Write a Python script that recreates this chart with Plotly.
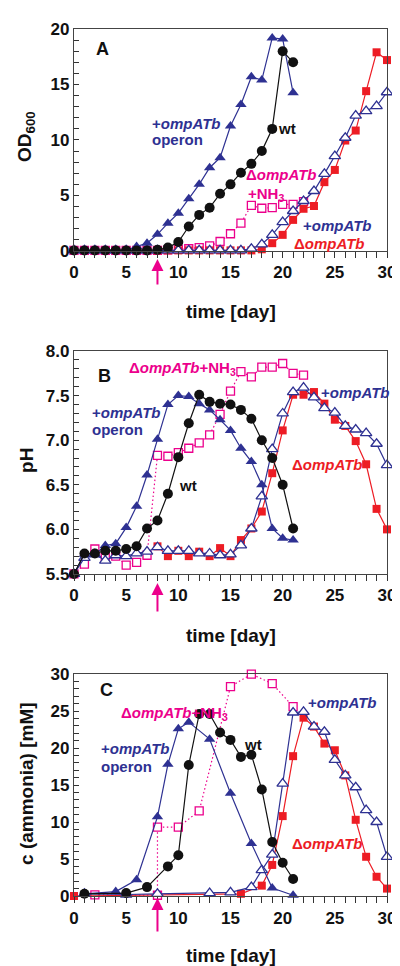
import plotly.graph_objects as go

# ---------------- data ----------------
# Panel A: OD600
days_wt_A = list(range(0, 22))
wt_A = [0.05, 0.05, 0.05, 0.05, 0.05, 0.05, 0.05, 0.05, 0.1, 0.3, 0.8, 2.2, 3.25, 3.9, 5.15, 6.0,
        7.05, 7.85, 9.0, 11.0, 18.0, 17.0]
days_opr_A = list(range(0, 22))
opr_A = [0.05, 0.05, 0.05, 0.05, 0.05, 0.05, 0.4, 0.7, 1.5, 2.5, 3.4, 4.7, 6.0, 7.5, 8.4, 11.25,
         13.2, 15.7, 15.4, 19.2, 19.1, 14.25]
days_nh3_A = list(range(0, 23))
nh3_A = [0.05, 0.05, 0.05, 0.05, 0.05, 0.05, 0.05, 0.05, 0.05, 0.1, 0.15, 0.2, 0.3, 0.45, 0.85,
         1.55, 2.5, 4.1, 3.85, 3.9, 4.2, 4.2, 4.45]
days_comp_A = list(range(0, 31))
comp_A = [0.05] * 17 + [0.2, 0.6, 1.45, 2.6, 3.6, 4.5, 5.4, 6.95, 8.55, 10.2, 12.2, 12.6, 13.05, 14.3]
days_del_A = list(range(8, 31))
del_A = [0.05] * 10 + [0.15, 0.7, 1.45, 2.8, 3.8, 4.05, 6.2, 7.3, 9.95, 10.85, 14.4, 17.9, 17.2]

# Panel B: pH
days_wt_B = list(range(0, 22))
wt_B = [5.5, 5.73, 5.73, 5.76, 5.76, 5.78, 5.81, 6.01, 6.10, 6.40, 6.81, 7.19, 7.51, 7.43, 7.41,
        7.40, 7.34, 7.24, 7.00, 6.80, 6.50, 6.01]
days_opr_B = list(range(0, 22))
opr_B = [5.5, 5.72, 5.72, 5.82, 5.84, 6.02, 6.26, 6.61, 7.01, 7.40, 7.50, 7.49, 7.41, 7.34, 7.23,
         7.11, 6.91, 6.76, 6.50, 6.01, 5.90, 5.88]
days_nh3_B = list(range(0, 23))
nh3_B = [5.5, 5.61, 5.78, 5.69, 5.70, 5.60, 5.63, 5.71, 6.83, 6.82, 6.86, 6.91, 6.97, 7.06, 7.29,
         7.55, 7.77, 7.71, 7.82, 7.82, 7.86, 7.75, 7.73]
days_comp_B = list(range(0, 31))
comp_B = [5.5, 5.68, 5.72, 5.65, 5.71, 5.70, 5.73, 5.75, 5.80, 5.76, 5.76, 5.76, 5.73, 5.73, 5.71,
          5.72, 5.82, 6.01, 6.37, 6.90, 7.30, 7.54, 7.59, 7.48, 7.36, 7.31, 7.16, 7.12, 7.08, 6.96, 6.72]
days_del_B = list(range(8, 31))
del_B = [5.81, 5.70, 5.76, 5.70, 5.75, 5.70, 5.79, 5.70, 5.88, 6.01, 6.20, 6.63, 7.11, 7.51, 7.51,
         7.54, 7.41, 7.23, 7.16, 6.99, 6.73, 6.23, 6.00]

# Panel C: ammonia (mM)
days_wt_C = [1, 5, 7, 9, 10, 11, 12, 13, 14, 15, 16, 17, 18, 19, 20, 21]
wt_C = [0.3, 0.4, 1.2, 4.0, 5.5, 17.7, 24.6, 24.6, 22.1, 21.1, 18.8, 19.1, 14.4, 7.3, 4.5, 2.3]
days_opr_C = [1, 4, 6, 8, 9, 10, 11, 13, 15, 17, 19, 21]
opr_C = [0.3, 0.6, 2.2, 10.7, 17.8, 22.6, 23.5, 21.2, 13.9, 7.1, 1.07, 0.1]
days_nh3_C = [2, 8, 8, 10, 12, 15, 17, 19, 21]
nh3_C = [0.15, 0.1, 9.3, 9.3, 11.5, 28.3, 30.0, 28.7, 25.6]
days_comp_C = [1, 5, 8, 13, 15, 17, 18, 19, 20, 21, 22, 23, 24, 25, 26, 27, 28, 29, 30]
comp_C = [0.3, 0.2, 0.3, 0.4, 0.5, 1.2, 3.5, 5.6, 15.2, 24.8, 24.9, 22.9, 22.2, 18.4, 16.3, 14.7,
          11.6, 10.0, 5.3]
days_del_C = [0, 16, 18, 19, 20, 21, 22, 23, 24, 25, 26, 27, 28, 29, 30]
del_C = [0.0, 0.3, 1.4, 4.2, 10.8, 18.9, 24.1, 22.9, 20.6, 19.7, 16.3, 10.3, 5.3, 2.6, 1.0]

x_ticks = [0, 5, 10, 15, 20, 25, 30]
arrow_day = 8

# ---------------- style ----------------
BLUE = "#2E3192"
RED = "#ED1C24"
MAG = "#EC008C"
BLK = "#111111"
FONT = "Liberation Sans, Arial, sans-serif"

fig = go.Figure()


def add_panel(n, wt, opr, nh3, comp, dele):
    xa = "x" if n == 1 else f"x{n}"
    ya = "y" if n == 1 else f"y{n}"
    common = dict(mode="lines+markers", xaxis=xa, yaxis=ya, cliponaxis=False, showlegend=False)
    fig.add_trace(go.Scatter(x=nh3[0], y=nh3[1], line=dict(color=MAG, width=1.2, dash="1.5px,2.5px"),
                             marker=dict(symbol="square", size=8, color="white",
                                         line=dict(width=1.3, color=MAG)),
                             **common))
    fig.add_trace(go.Scatter(x=dele[0], y=dele[1], line=dict(color=RED, width=1.2),
                             marker=dict(symbol="square", size=8, color=RED), **common))
    fig.add_trace(go.Scatter(x=comp[0], y=comp[1], line=dict(color=BLUE, width=1.2),
                             marker=dict(symbol="triangle-up", size=10, color="white",
                                         line=dict(width=1.3, color=BLUE)), **common))
    fig.add_trace(go.Scatter(x=opr[0], y=opr[1], line=dict(color=BLUE, width=1.2),
                             marker=dict(symbol="triangle-up", size=10, color=BLUE), **common))
    fig.add_trace(go.Scatter(x=wt[0], y=wt[1], line=dict(color=BLK, width=1.2),
                             marker=dict(symbol="circle", size=10, color=BLK), **common))


add_panel(1, (days_wt_A, wt_A), (days_opr_A, opr_A), (days_nh3_A, nh3_A),
          (days_comp_A, comp_A), (days_del_A, del_A))
add_panel(2, (days_wt_B, wt_B), (days_opr_B, opr_B), (days_nh3_B, nh3_B),
          (days_comp_B, comp_B), (days_del_B, del_B))
add_panel(3, (days_wt_C, wt_C), (days_opr_C, opr_C), (days_nh3_C, nh3_C),
          (days_comp_C, comp_C), (days_del_C, del_C))

# geometry (pixels)
W, H = 400, 966
L, R = 66, 385
TOP, BOT = 13, 888
PH = BOT - TOP


def py2paper(py):
    return (BOT - py) / PH


doms = [(237, 13), (563, 338), (888, 664)]
yranges = [[0, 20], [5.5, 8.0], [0, 30]]
ydticks = [5, 0.5, 5]
yminor = [1, 0.1, 1]
yfmt = ["d", ".1f", "d"]

layout = dict(width=W, height=H, margin=dict(l=L, r=W - R, t=TOP, b=H - BOT),
              plot_bgcolor="white", paper_bgcolor="white",
              font=dict(family=FONT, color=BLK))
for i in range(3):
    sfx = "" if i == 0 else str(i + 1)
    b, t = doms[i]
    layout["xaxis" + sfx] = dict(
        domain=[0, 1], anchor="y" + sfx, range=[0, 30], tickvals=x_ticks,
        ticks="outside", ticklen=6, tickwidth=1, tickcolor="#333",
        minor=dict(dtick=1, ticks="outside", ticklen=6, tickcolor="#333"),
        showline=True, linecolor="#444", linewidth=1.2, mirror=True,
        showgrid=False, zeroline=False,
        tickfont=dict(size=17, family=FONT, weight="bold", color=BLK))
    layout["yaxis" + sfx] = dict(
        domain=[py2paper(b), py2paper(t)], anchor="x" + sfx, range=yranges[i],
        dtick=ydticks[i], tick0=yranges[i][0], tickformat=yfmt[i],
        ticks="inside", ticklen=5, tickwidth=1, tickcolor="#333",
        minor=dict(dtick=yminor[i], ticks="inside", ticklen=5, tickcolor="#333"),
        showline=True, linecolor="#444", linewidth=1.2, mirror=True,
        showgrid=False, zeroline=False,
        tickfont=dict(size=17, family=FONT, weight="bold", color=BLK))
fig.update_layout(**layout)

ann = []


def txt(text, x, y, ref, color, size=15, xanchor="left", yanchor="middle"):
    ann.append(dict(text=text, x=x, y=y, xref="x" + ref, yref="y" + ref, showarrow=False,
                    xanchor=xanchor, yanchor=yanchor,
                    font=dict(size=size, color=color, family=FONT, weight="bold")))


OMP = "<i>ompATb</i>"
# Panel A labels
txt("A", 2.73, 18.2, "", BLK, size=18, xanchor="center")
txt("+" + OMP, 7.3, 11.5, "", BLUE)
txt("operon", 7.3, 10.0, "", BLUE)
txt("wt", 19.4, 11.07, "", BLK)
txt("Δ" + OMP, 16.3, 6.9, "", MAG)
txt("+NH<sub>3</sub>", 16.5, 5.1, "", MAG)
txt("+" + OMP, 21.8, 2.32, "", BLUE)
txt("Δ" + OMP, 20.9, 0.71, "", RED)
# Panel B labels
txt("B", 2.92, 7.72, "2", BLK, size=18, xanchor="center")
txt("Δ" + OMP + "+NH<sub>3</sub>", 5.1, 7.80, "2", MAG)
txt("+" + OMP, 23.5, 7.54, "2", BLUE)
txt("+" + OMP, 1.5, 7.31, "2", BLUE)
txt("operon", 1.5, 7.12, "2", BLUE)
txt("wt", 9.9, 6.49, "2", BLK)
txt("Δ" + OMP, 20.75, 6.73, "2", RED)
# Panel C labels
txt("C", 3.1, 27.86, "3", BLK, size=18, xanchor="center")
txt("Δ" + OMP + "+NH<sub>3</sub>", 4.3, 24.7, "3", MAG)
txt("+" + OMP, 22.2, 26.1, "3", BLUE)
txt("+" + OMP, 2.35, 19.95, "3", BLUE)
txt("operon", 2.35, 17.54, "3", BLUE)
txt("wt", 16.1, 20.49, "3", BLK)
txt("Δ" + OMP, 20.75, 7.1, "3", RED)

# axis titles
for yc in (298, 625, 948):
    ann.append(dict(text="time [day]", x=0.5, y=py2paper(yc), xref="paper", yref="paper",
                    showarrow=False, xanchor="center", yanchor="middle",
                    font=dict(size=19, family=FONT, weight="bold", color=BLK)))
for t, yc in (("OD<sub>600</sub>", 121), ("pH", 448), ("c (ammonia) [mM]", 774)):
    ann.append(dict(text=t, x=(17 - L) / (R - L), y=py2paper(yc), xref="paper", yref="paper",
                    showarrow=False, textangle=-90, xanchor="center", yanchor="middle",
                    font=dict(size=19, family=FONT, weight="bold", color=BLK)))

# arrows marking NH3 addition
for tip, tail in ((245, 272), (572, 602), (890, 925)):
    ann.append(dict(text="", x=arrow_day, xref="x", y=py2paper(tip), yref="paper",
                    showarrow=True, ax=0, ay=tail - tip, arrowhead=2, arrowsize=1.2,
                    arrowwidth=2, arrowcolor=MAG))

fig.update_layout(annotations=ann)
fig.write_html("out.html")
